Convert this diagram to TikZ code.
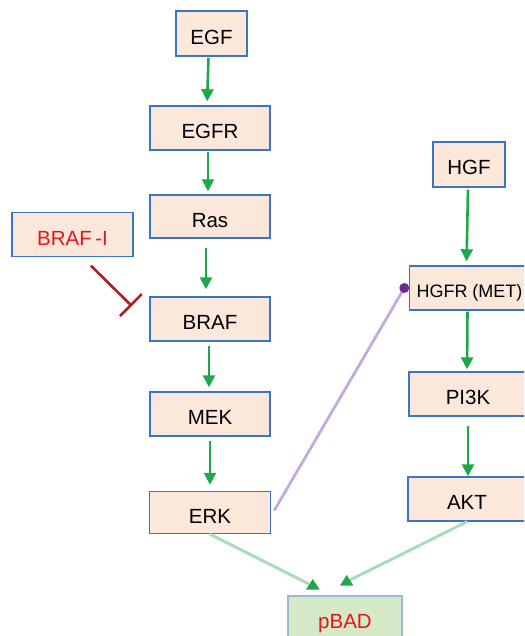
\documentclass[tikz,border=0pt]{standalone}
\usepackage{fontspec}
\setmainfont{Liberation Sans}
\usetikzlibrary{arrows.meta,calc}
\definecolor{boxfill}{HTML}{FCE8DA}
\definecolor{boxline}{HTML}{3A75C4}
\definecolor{actgreen}{HTML}{1EA84A}
\definecolor{paleg}{HTML}{A8DDB8}
\definecolor{inhred}{HTML}{B01E24}
\definecolor{txtred}{HTML}{E8141C}
\definecolor{palepurple}{HTML}{C4AAD8}
\definecolor{dotpurple}{HTML}{6B2D90}
\definecolor{pbadfill}{HTML}{D6E9C6}
\definecolor{pbadline}{HTML}{9DBAD4}
\tikzset{
  protbox/.style={draw=boxline, fill=boxfill, line width=1.4pt, inner sep=0pt,
    font=\fontsize{20.5}{24}\selectfont, text=black, text height=21pt, text depth=0pt},
  act/.style={draw=actgreen, line width=2.6pt, -{Triangle[width=12pt,length=12pt]}, shorten <=1pt},
  paleline/.style={draw=paleg, line width=3pt},
}
\begin{document}
\begin{tikzpicture}[x=1pt,y=-1pt]
\useasboundingbox (0,0) rectangle (524,636);
\clip (0,0) rectangle (524,636);
% left column
\node[protbox, minimum width=71pt, minimum height=45pt] (egf) at (211.5,33.7) {EGF};
\node[protbox, minimum width=120pt, minimum height=44pt] (egfr) at (210,128) {EGFR};
\node[protbox, minimum width=120pt, minimum height=43pt] (ras) at (210,216.5) {Ras};
\node[protbox, minimum width=120pt, minimum height=44pt] (braf) at (210,319) {BRAF};
\node[protbox, minimum width=120pt, minimum height=44pt] (mek) at (210,414) {MEK};
\node[protbox, minimum width=121pt, minimum height=42pt] (erk) at (210,512.5) {ERK};
\node[protbox, minimum width=121pt, minimum height=44pt, text=txtred] (brafi) at (72.5,234.5) {BRAF\,-I};
% right column
\node[protbox, minimum width=72pt, minimum height=45pt] (hgf) at (469,164.5) {HGF};
\node[protbox, minimum width=120pt, minimum height=44pt, font=\fontsize{18}{22}\selectfont, text height=19pt] (hgfr) at (469.5,288) {HGFR (MET)};
\node[protbox, minimum width=118pt, minimum height=44pt] (pi3k) at (468,394) {PI3K};
\node[protbox, minimum width=118pt, minimum height=44pt] (akt) at (467,499) {AKT};
% pBAD
\node[draw=pbadline, fill=pbadfill, line width=2.2pt, minimum width=114pt, minimum height=46pt,
  inner sep=0pt, font=\fontsize{20.5}{24}\selectfont, text=txtred, text height=19pt, text depth=0pt] (pbad) at (345,619) {pBAD};
% green activation arrows
\draw[act, shorten >=4pt] ([xshift=-3pt]egf.south) -- ([xshift=-3pt]egfr.north);
\draw[act, shorten >=3pt] ([xshift=-2pt]egfr.south) -- ([xshift=-2pt]ras.north);
\draw[act, shorten <=9pt, shorten >=7pt] ([xshift=-4pt]ras.south) -- ([xshift=-4pt]braf.north);
\draw[act, shorten <=4pt, shorten >=4pt] ([xshift=-1pt]braf.south) -- ([xshift=-1pt]mek.north);
\draw[act, shorten <=4pt, shorten >=6pt] (mek.south) -- (erk.north);
\draw[act, shorten <=2pt, shorten >=4pt] ([xshift=-1pt]hgf.south) -- ([xshift=-3pt]hgfr.north);
\draw[act, shorten >=2pt] ([xshift=-2pt]hgfr.south) -- ([xshift=-1pt]pi3k.north);
\draw[act, shorten <=9pt, shorten >=0pt] ([xshift=0pt]pi3k.south) -- ([xshift=1pt]akt.north);
% inhibition
\coordinate (inhs) at ($(brafi.south)+(18.5,8.5)$);
\coordinate (inhe) at ($(braf.west)+(-17.5,-13)$);
\draw[draw=inhred, line width=2.6pt, -{Bar[width=31pt,line width=2.6pt]}] (inhs) -- (inhe);
% purple link ERK -> HGFR
\coordinate (pstart) at ($(erk.east)+(3,-2)$);
\coordinate (pdot) at ($(hgfr.west)+(-4.5,0)$);
\draw[draw=palepurple, line width=2.8pt] (pstart) -- (pdot);
\fill[dotpurple] (pdot) circle (5pt);
% pale green connectors to pBAD
\coordinate (t1) at (313,584);
\coordinate (t2) at (347,580);
\draw[paleline] (erk.south) -- ($(t1)+(-4,0)$);
\draw[paleline] (akt.south) -- ($(t2)+(3,0)$);
\fill[actgreen] (312.7,579) -- (319.7,589.5) -- (306,589.5) -- cycle;
\fill[actgreen] (346.7,575) -- (353.3,585.5) -- (340,585.5) -- cycle;
\end{tikzpicture}
\end{document}
